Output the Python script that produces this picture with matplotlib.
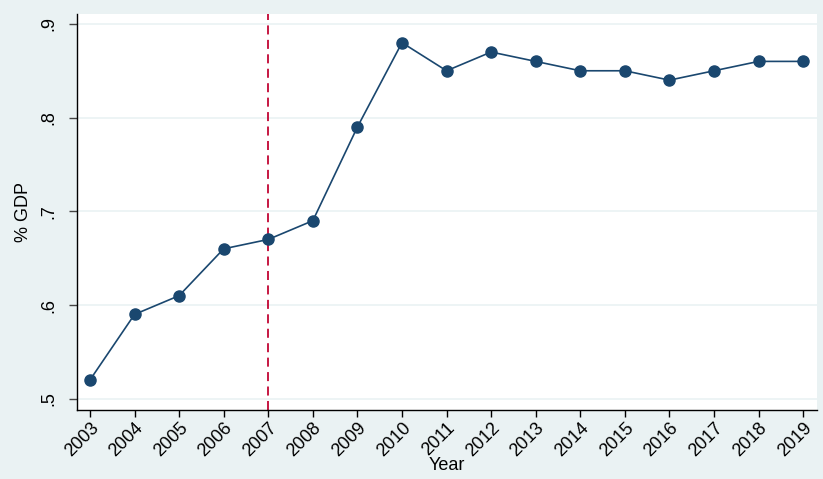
import matplotlib
matplotlib.use('Agg')
import matplotlib.pyplot as plt

years = [2003, 2004, 2005, 2006, 2007, 2008, 2009, 2010, 2011,
         2012, 2013, 2014, 2015, 2016, 2017, 2018, 2019]
gdp_share = [0.52, 0.59, 0.61, 0.66, 0.67, 0.69, 0.79, 0.88, 0.85,
             0.87, 0.86, 0.85, 0.85, 0.84, 0.85, 0.86, 0.86]
y_ticks = [0.5, 0.6, 0.7, 0.8, 0.9]
y_tick_labels = ['.5', '.6', '.7', '.8', '.9']
break_year = 2007

plt.rcParams['font.family'] = ['Liberation Sans', 'DejaVu Sans']

bg = '#eaf2f3'
navy = '#1a476f'

fig = plt.figure(figsize=(8.23, 4.79), dpi=100, facecolor=bg)
ax = fig.add_axes([0.0936, 0.1441, 0.8991, 0.8267])
ax.set_facecolor('white')

ax.plot(years, gdp_share, color=navy, linewidth=1.2, marker='o',
        markersize=8, markerfacecolor=navy, markeredgecolor=navy, zorder=3)
ax.axvline(break_year, color='#c10534', linestyle=(0, (5, 3)), linewidth=1.3, zorder=2)

ax.set_xlim(2002.71, 2019.31)
ax.set_ylim(0.488, 0.9106)
ax.set_yticks(y_ticks)
ax.set_yticklabels(y_tick_labels, rotation=90, va='center', fontsize=13)
ax.set_xticks(years)
ax.set_xticklabels([str(y) for y in years], rotation=45, ha='right',
                   rotation_mode='anchor', fontsize=13)
ax.grid(axis='y', color=bg, linewidth=1.2)
ax.set_axisbelow(True)

for side in ['top', 'right']:
    ax.spines[side].set_visible(False)
for side in ['left', 'bottom']:
    ax.spines[side].set_color('black')
    ax.spines[side].set_linewidth(1.0)
ax.tick_params(axis='x', length=5, width=1.0, color='black', pad=2)
ax.tick_params(axis='y', length=6, width=1.0, color='#444444', pad=8)

ax.set_ylabel('% GDP', fontsize=13, labelpad=6)
ax.set_xlabel('Year', fontsize=13, labelpad=-2)

fig.savefig('out.png', dpi=100, facecolor=bg)
